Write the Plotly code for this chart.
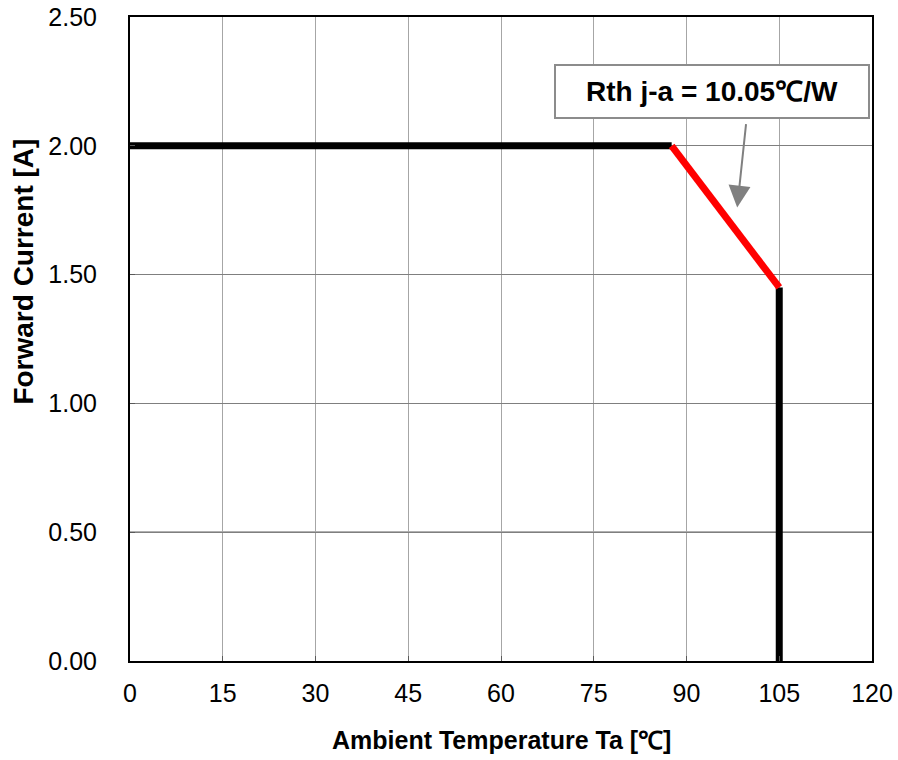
import plotly.graph_objects as go

# Derating curve: forward current vs. ambient temperature
flat_x = [0, 87.6]
flat_y = [2.0, 2.0]
slope_x = [87.6, 105]
slope_y = [2.0, 1.45]
cutoff_x = [105, 105]
cutoff_y = [1.45, 0.0]

x_ticks = [0, 15, 30, 45, 60, 75, 90, 105, 120]
y_ticks = [0.0, 0.5, 1.0, 1.5, 2.0, 2.5]
y_tick_text = ["0.00", "0.50", "1.00", "1.50", "2.00", "2.50"]
rth_label = "Rth j-a = 10.05℃/W"
x_title = "Ambient Temperature Ta [℃]"
y_title = "Forward Current [A]"

font_family = "Liberation Sans, Arial, sans-serif"

fig = go.Figure()
fig.add_trace(go.Scatter(x=flat_x, y=flat_y, mode="lines",
                         line=dict(color="black", width=7), showlegend=False))
fig.add_trace(go.Scatter(x=cutoff_x, y=cutoff_y, mode="lines",
                         line=dict(color="black", width=7), showlegend=False))
fig.add_trace(go.Scatter(x=slope_x, y=slope_y, mode="lines",
                         line=dict(color="#ff0000", width=7),
                         showlegend=False))

# darker gridline at 0.5
fig.add_shape(type="line", xref="x", yref="y", x0=0, x1=120, y0=0.5, y1=0.5,
              line=dict(color="black", width=1), layer="below")

# arrow pointing at the derating slope
fig.add_annotation(
    x=98.2, y=1.76, xref="x", yref="y",
    ax=9, ay=-85, axref="pixel", ayref="pixel",
    showarrow=True, arrowhead=2, arrowsize=2.2, arrowwidth=2,
    arrowcolor="#808080", text="",
)
fig.add_annotation(
    x=0.785, y=0.885, xref="paper", yref="paper",
    xanchor="center", yanchor="middle",
    text="<b>" + rth_label + "</b>", showarrow=False,
    font=dict(family=font_family, size=28, color="black"),
    bgcolor="white", bordercolor="#8c8c8c", borderwidth=2,
    width=310, height=49,
)

# axis titles
fig.add_annotation(
    x=0.5, xref="paper", y=-0.123, yref="paper",
    text="<b>" + x_title + "</b>", showarrow=False,
    xanchor="center", yanchor="middle",
    font=dict(family=font_family, size=25, color="black"),
)
fig.add_annotation(
    x=-0.1448, y=0.604, xref="paper", yref="paper",
    text="<b>" + y_title + "</b>", showarrow=False, textangle=-90,
    xanchor="center", yanchor="middle",
    font=dict(family=font_family, size=28, color="black"),
)

fig.update_layout(
    width=898, height=760,
    margin=dict(l=130, r=26, t=17, b=99),
    paper_bgcolor="white", plot_bgcolor="white",
    font=dict(family=font_family, size=25, color="black"),
)
fig.update_xaxes(
    range=[0, 120], tickvals=x_ticks, automargin=False,
    showgrid=True, gridcolor="#a6a6a6", gridwidth=1,
    showline=True, linecolor="black", linewidth=2, mirror=True,
    ticks="inside", ticklen=5, tickcolor="#595959",
    ticklabelstandoff=9, zeroline=False,
)
fig.update_yaxes(
    range=[0, 2.5], tickvals=y_ticks, ticktext=y_tick_text, automargin=False,
    showgrid=True, gridcolor="#7f7f7f", gridwidth=1,
    showline=True, linecolor="black", linewidth=2, mirror=True,
    ticks="inside", ticklen=5, tickcolor="#595959",
    ticklabelstandoff=26, zeroline=False,
)

fig.write_html("out.html")
